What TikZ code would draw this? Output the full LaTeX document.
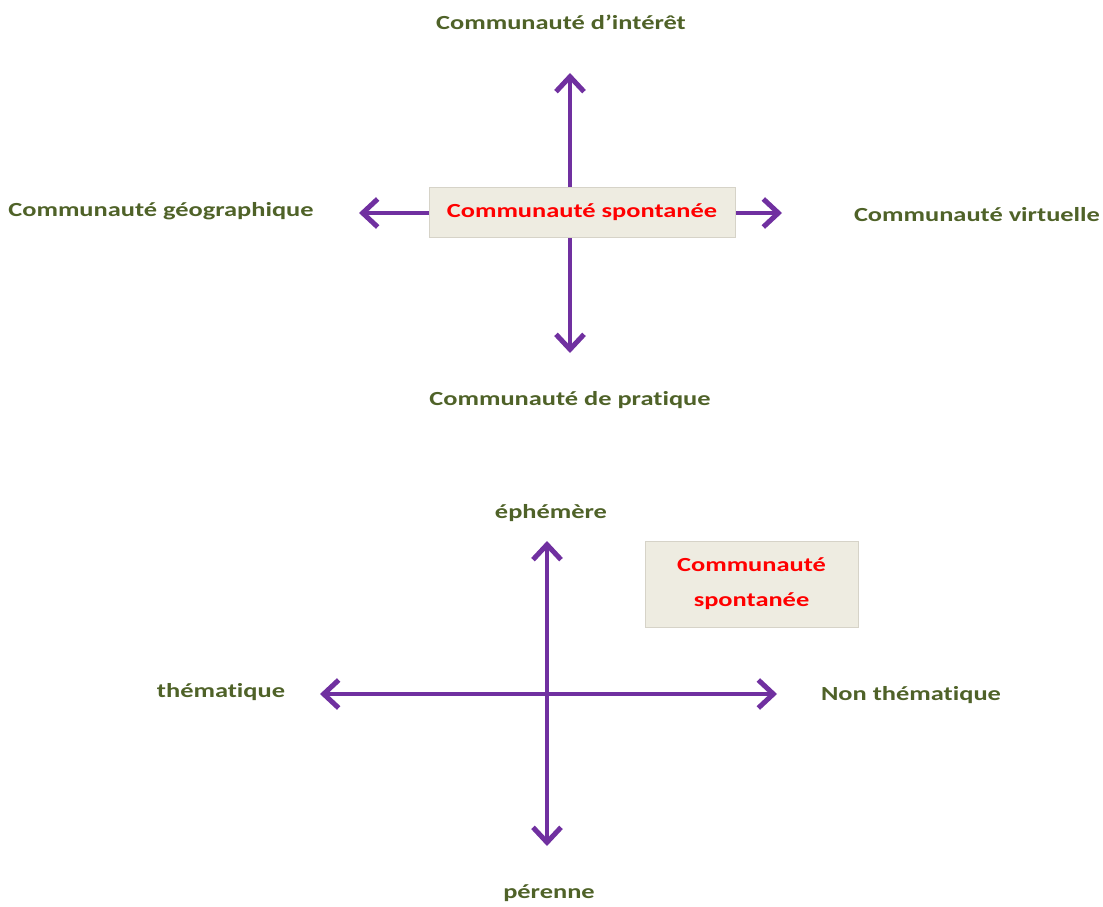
\documentclass[tikz,border=0pt]{standalone}
\usepackage{fontspec}
\setmainfont{Carlito}[FakeStretch=1.32, Ligatures=NoCommon]
\usetikzlibrary{arrows.meta}
\definecolor{axiscol}{HTML}{7030A0}
\definecolor{polecol}{HTML}{4F6228}
\definecolor{boxfill}{HTML}{EEECE1}
\definecolor{boxline}{HTML}{D6D3C8}
\tikzset{
  axisarrow/.style={draw=axiscol, line width=4pt,
    {Straight Barb[length=15pt,width=28pt,line width=5pt]}-{Straight Barb[length=15pt,width=28pt,line width=5pt]}},
  pole/.style={text=polecol, font=\bfseries\fontsize{20}{24}\selectfont, inner sep=0pt},
  kind/.style={fill=boxfill, draw=boxline, line width=0.8pt, text=red, align=center,
    font=\bfseries\fontsize{20}{35}\selectfont},
}

\begin{document}
\begin{tikzpicture}[x=1pt,y=-1pt]
  \useasboundingbox (0,0) rectangle (1103,907);

  % top: kinds of community
  \coordinate (up1) at (570,73);
  \coordinate (down1) at (570,353);
  \coordinate (left1) at (359,213);
  \coordinate (right1) at (782,213);
  \draw[axisarrow] (up1) -- (down1);
  \draw[axisarrow] (left1) -- (right1);
  \node[kind, minimum width=306pt, minimum height=50pt] (spont1) at (582,212) {Communauté spontanée};
  \node[pole] (interet) at (561,22) {Communauté d’intérêt};
  \node[pole] (geo) at (161,211) {Communauté géographique};
  \node[pole] (virt) at (977,215) {Communauté virtuelle};
  \node[pole] (prat) at (570,400) {Communauté de pratique};

  % bottom: duration / theme
  \coordinate (up2) at (547,541);
  \coordinate (down2) at (547,846);
  \coordinate (left2) at (320,694);
  \coordinate (right2) at (777,694);
  \draw[axisarrow] (up2) -- (down2);
  \draw[axisarrow] (left2) -- (right2);
  \node[kind, minimum width=213pt, minimum height=86pt] (spont2) at (751.5,584) {Communauté\\spontanée};
  \node[pole] (ephem) at (551,513) {éphémère};
  \node[pole] (them) at (221,692) {thématique};
  \node[pole] (nonthem) at (911,695) {Non thématique};
  \node[pole] (peren) at (549,893) {pérenne};
\end{tikzpicture}
\end{document}
